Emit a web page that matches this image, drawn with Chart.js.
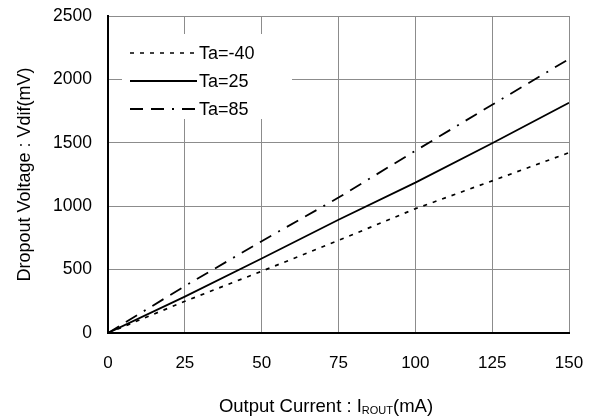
<!DOCTYPE html>
<html>
<head>
<meta charset="utf-8">
<script src="https://cdn.jsdelivr.net/npm/chart.js@4"></script>
<style>
  html, body { margin: 0; padding: 0; background: #fff; }
  #wrap { width: 595px; height: 419px; }
</style>
</head>
<body>
<div id="wrap"><canvas id="grafik"></canvas></div>
<script>
const current = [0, 25, 50, 75, 100, 125, 150];
const taM40 = [0, 250, 487, 730, 980, 1200, 1422];
const ta25 = [0, 287, 588, 893, 1186, 1497, 1816];
const ta85 = [0, 370, 724, 1068, 1437, 1800, 2161];
const xTicks = [0, 25, 50, 75, 100, 125, 150];
const yTicks = [0, 500, 1000, 1500, 2000, 2500];

const font = "'Liberation Sans', Arial, sans-serif";

function toPoints(ys) {
    return current.map((x, i) => ({ x: x, y: ys[i] }));
}

// legend box inside the plot + axis titles (with subscript)
const extras = {
    id: 'extras',
    afterDatasetsDraw(chart) {
        const ctx = chart.ctx;
        const area = chart.chartArea;
        ctx.save();
        ctx.fillStyle = '#fff';
        ctx.fillRect(area.left + 14, area.top + 18, 170, 85);
        const rows = chart.data.datasets;
        rows.forEach((ds, i) => {
            const y = area.top + 37 + i * 28;
            ctx.strokeStyle = '#000';
            ctx.lineWidth = ds.borderWidth;
            ctx.setLineDash(ds.borderDash || []);
            ctx.beginPath();
            ctx.moveTo(area.left + 22, y);
            ctx.lineTo(area.left + 89, y);
            ctx.stroke();
            ctx.setLineDash([]);
            ctx.fillStyle = '#000';
            ctx.font = '18px ' + font;
            ctx.textBaseline = 'middle';
            ctx.textAlign = 'left';
            ctx.fillText(ds.label, area.left + 91, y + 1);
        });

        // x title
        ctx.fillStyle = '#000';
        ctx.textBaseline = 'middle';
        const big = '18.5px ' + font, small = '11px ' + font;
        const parts = [['Output Current : I', big, 0], ['ROUT', small, 4], ['(mA)', big, 0]];
        let w = 0;
        parts.forEach(p => { ctx.font = p[1]; w += ctx.measureText(p[0]).width; });
        let x = 326 - w / 2;
        ctx.textAlign = 'left';
        parts.forEach(p => {
            ctx.font = p[1];
            ctx.fillText(p[0], x, 407 + p[2]);
            x += ctx.measureText(p[0]).width;
        });

        // y title
        ctx.translate(25, (area.top + area.bottom) / 2);
        ctx.rotate(-Math.PI / 2);
        ctx.textAlign = 'center';
        ctx.font = '18px ' + font;
        ctx.fillText('Dropout Voltage : Vdif(mV)', 0, 0);
        ctx.restore();
    }
};

const ctx = document.getElementById('grafik');
new Chart(ctx, {
    type: 'line',
    data: {
        datasets: [{
            label: 'Ta=-40',
            data: toPoints(taM40),
            borderColor: '#000',
            borderWidth: 1.7,
            borderDash: [4, 6],
            pointRadius: 0,
            tension: 0
        }, {
            label: 'Ta=25',
            data: toPoints(ta25),
            borderColor: '#000',
            borderWidth: 1.8,
            pointRadius: 0,
            tension: 0
        }, {
            label: 'Ta=85',
            data: toPoints(ta85),
            borderColor: '#000',
            borderWidth: 1.8,
            borderDash: [13, 8, 13, 8, 2, 8],
            pointRadius: 0,
            tension: 0
        }]
    },
    options: {
        responsive: true,
        maintainAspectRatio: false,
        animation: false,
        events: [],
        layout: { padding: { top: 16, right: 26, left: 0, bottom: 0 } },
        plugins: {
            legend: { display: false },
            tooltip: { enabled: false }
        },
        scales: {
            x: {
                type: 'linear',
                min: 0,
                max: 150,
                afterBuildTicks: (s) => { s.ticks = xTicks.map(v => ({ value: v })); },
                afterFit: (s) => { s.height = 86; s.paddingLeft = 0; s.paddingRight = 0; },
                grid: { color: '#8c8c8c', lineWidth: 1, drawTicks: false },
                border: { color: '#000', width: 2 },
                ticks: { color: '#000', padding: 20, font: { family: font, size: 17 }, maxRotation: 0, callback: v => String(v) }
            },
            y: {
                min: 0,
                max: 2500,
                afterBuildTicks: (s) => { s.ticks = yTicks.map(v => ({ value: v })); },
                afterFit: (s) => { s.width = 108; s.paddingTop = 0; s.paddingBottom = 0; },
                grid: { color: '#8c8c8c', lineWidth: 1, drawTicks: false },
                border: { color: '#000', width: 2 },
                ticks: { color: '#000', padding: 16, font: { family: font, size: 17.5 }, callback: v => String(v) }
            }
        }
    },
    plugins: [extras]
});
</script>
</body>
</html>
